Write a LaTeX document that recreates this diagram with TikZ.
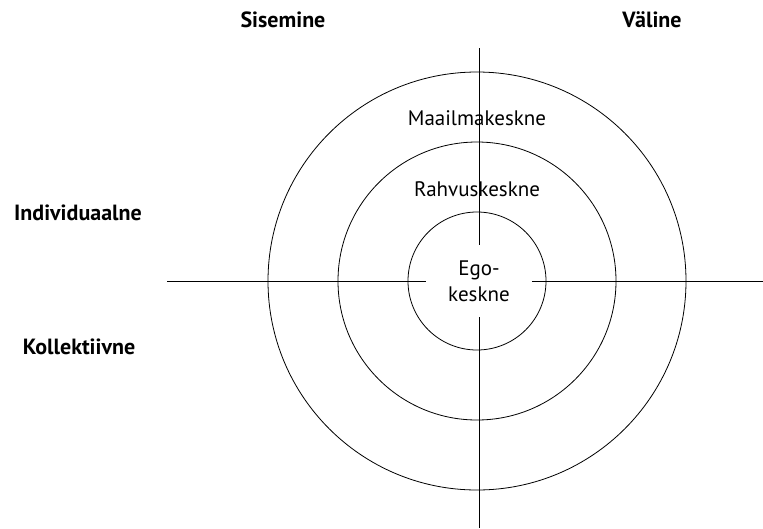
\documentclass[tikz,border=0pt]{standalone}
\usepackage{fontspec}
\setmainfont{PT Sans}
\usetikzlibrary{positioning}

\begin{document}
\begin{tikzpicture}[x=1pt,y=-1pt,line width=0.8pt]
    \tikzstyle{ring}=[circle,draw=black,inner sep=0pt]
    \tikzstyle{head}=[font=\fontsize{22}{26}\selectfont\bfseries]
    \tikzstyle{zone}=[font=\fontsize{21}{26}\selectfont]

    \useasboundingbox (0,0) rectangle (763,528);

    % Circles
    \coordinate (C) at (477,281);
    \node[ring, minimum size=418pt] (outer) at (C) {};
    \node[ring, minimum size=278pt] (middle) at (C) {};
    \node[ring, minimum size=138pt] (inner) at (C) {};

    % Centre label, leaves a gap in the axes
    \node[zone, minimum width=105pt, minimum height=72pt, align=center,
          inner sep=0pt] (ego) at (479,281) {Ego-\\keskne};

    % Axes
    \coordinate (ax-left) at (167,281);
    \coordinate (ax-right) at (763,281);
    \coordinate (ax-top) at (479,48);
    \coordinate (ax-bottom) at (479,528);
    \draw (ax-left) -- (ego.west);
    \draw (ego.east) -- (ax-right);
    \draw (ax-top) -- (ego.north);
    \draw (ego.south) -- (ax-bottom);

    % Ring labels
    \node[zone] (world) at (477,118) {Maailmakeskne};
    \node[zone] (nation) at (477,189) {Rahvuskeskne};

    % Annotate the quadrants
    \node[head] (inside) at (283,20) {Sisemine};
    \node[head] (outside) at (652,20) {Väline};
    \node[head] (indiv) at (78,213) {Individuaalne};
    \node[head] (coll) at (79,347) {Kollektiivne};

\end{tikzpicture}
\end{document}
